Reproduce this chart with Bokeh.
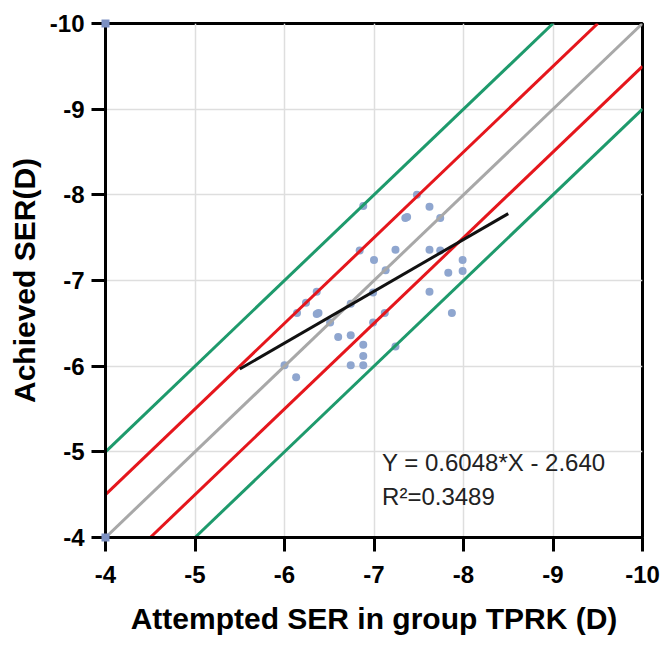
from bokeh.plotting import figure
from bokeh.models import Range1d, FixedTicker, Label, CustomJSTickFormatter
from bokeh.embed import file_html
from bokeh.resources import INLINE

# ---- data ----
attempted = [-7.62, -7.35, -7.37, -7.74, -6.88, -6.84, -7.48, -7.00, -7.24, -7.62,
             -7.74, -7.99, -7.13, -7.83, -7.99, -6.99, -7.62, -7.87, -7.12, -6.99,
             -7.24, -6.74, -6.36, -6.38, -6.51, -6.60, -6.74, -6.88, -6.88, -6.74,
             -6.88, -6.00, -6.13, -6.14, -6.24, -6.36]
achieved = [-7.86, -7.73, -7.74, -7.73, -7.87, -7.35, -8.00, -7.24, -7.36, -7.36,
            -7.35, -7.24, -7.12, -7.09, -7.11, -6.86, -6.87, -6.62, -6.62, -6.51,
            -6.23, -6.73, -6.61, -6.62, -6.51, -6.34, -6.36, -6.25, -6.12, -6.01,
            -6.01, -6.01, -5.87, -6.62, -6.74, -6.87]

corner_x = [-4, -4]
corner_y = [-10, -4]

ticks = [-4, -5, -6, -7, -8, -9, -10]

fit_slope = 0.6048
fit_intercept = -2.640
fit_x = [-5.5, -8.5]

# reference lines y = x + d
ref_offsets = [1.0, 0.5, 0.0, -0.5, -1.0]
ref_colors = ["#1e9a6c", "#e5161c", "#a8a8a8", "#e5161c", "#1e9a6c"]

eq_text = "Y = 0.6048*X - 2.640"
r2_text = "R\u00b2=0.3489"
x_title = "Attempted SER in group TPRK (D)"
y_title = "Achieved SER(D)"

FONT = "Liberation Sans"

p = figure(width=665, height=648, output_backend="svg", toolbar_location=None,
           x_range=Range1d(-4, -10), y_range=Range1d(-4, -10),
           min_border_left=105, min_border_right=23, min_border_top=23,
           min_border_bottom=111)
p.background_fill_color = "white"
p.border_fill_color = "white"
p.outline_line_color = "black"
p.outline_line_width = 3

# grid
for g in (p.xgrid, p.ygrid):
    g.ticker = FixedTicker(ticks=ticks)
    g.grid_line_color = "#dedede"
    g.grid_line_width = 1.5

# axes
for ax in (p.xaxis, p.yaxis):
    ax.ticker = FixedTicker(ticks=ticks)
    ax.axis_line_color = "black"
    ax.axis_line_width = 3
    ax.major_tick_line_color = "black"
    ax.major_tick_line_width = 3
    ax.major_tick_in = 0
    ax.major_tick_out = 14
    ax.minor_tick_line_color = None
    ax.major_label_text_font = FONT
    ax.major_label_text_font_style = "bold"
    ax.major_label_text_font_size = "24px"
    ax.major_label_text_color = "black"
    ax.axis_label_text_font = FONT
    ax.axis_label_text_font_style = "bold"
    ax.axis_label_text_font_size = "30px"
    ax.axis_label_text_color = "black"

p.xaxis.formatter = CustomJSTickFormatter(code="return String(tick);")
p.yaxis.formatter = CustomJSTickFormatter(code="return '\\u00a0' + String(tick);")

p.xaxis.axis_label = x_title
p.yaxis.axis_label = y_title
p.xaxis.major_label_standoff = 14
p.yaxis.major_label_standoff = 7
p.xaxis.axis_label_standoff = 16
p.yaxis.axis_label_standoff = -1

# scatter points
p.scatter(attempted, achieved, size=8, color="#8fa6cf", line_color=None)

# reference lines
for d, c in zip(ref_offsets, ref_colors):
    xs = [-4 - max(d, 0), -10 - min(d, 0)]
    ys = [x + d for x in xs]
    p.line(xs, ys, line_color=c, line_width=3)

# regression line
fit_y = [fit_slope * x + fit_intercept for x in fit_x]
p.line(fit_x, fit_y, line_color="#111111", line_width=3)

# corner markers
p.scatter(corner_x, corner_y, marker="square", size=8, color="#7c90c2",
          line_color=None, level="overlay")

# annotation
p.add_layout(Label(x=-7.09, y=-4.87, text=eq_text, text_font=FONT,
                   text_font_size="24px", text_color="#222222",
                   text_baseline="alphabetic"))
p.add_layout(Label(x=-7.09, y=-4.48, text=r2_text, text_font=FONT,
                   text_font_size="24px", text_color="#222222",
                   text_baseline="alphabetic"))

open("out.html", "w").write(file_html(p, INLINE))
